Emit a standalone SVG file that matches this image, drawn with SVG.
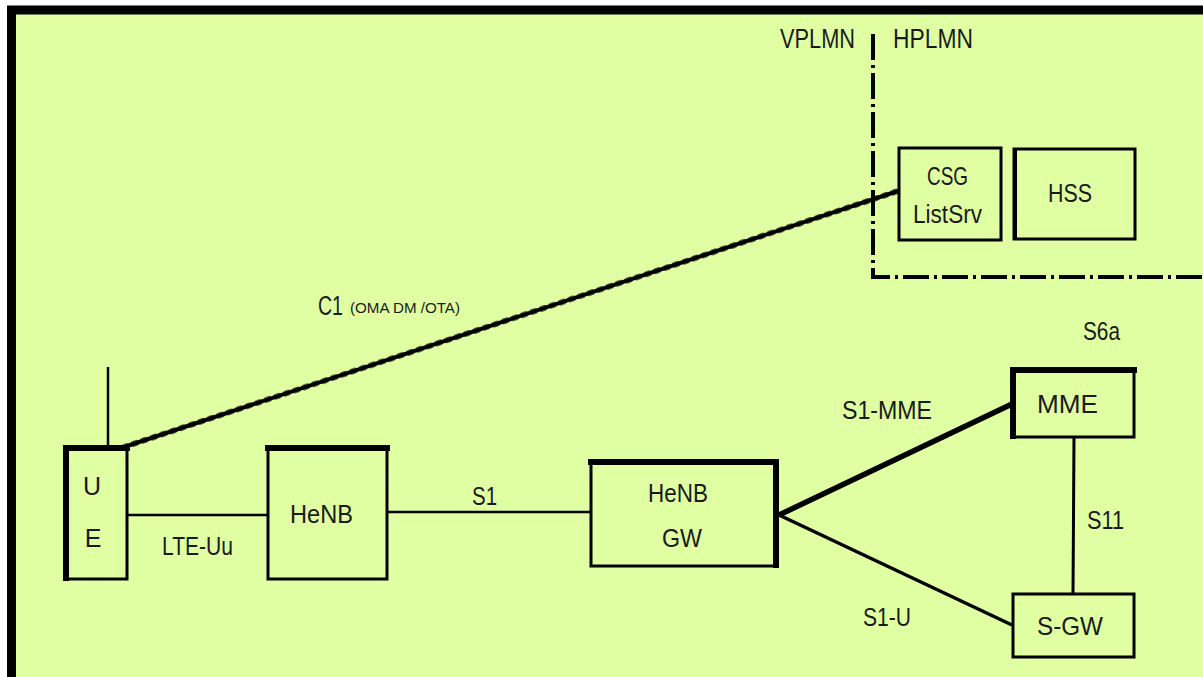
<svg xmlns="http://www.w3.org/2000/svg" width="1203" height="677" viewBox="0 0 1203 677">
<style>
.box{fill:none;stroke:#000;stroke-width:3}
.thick{stroke:#000;stroke-width:6;fill:none;stroke-linecap:square}
.t{font-family:"Liberation Sans",Arial,sans-serif;fill:#1a1a1a;lengthAdjust:spacingAndGlyphs}
.ln{stroke:#000;fill:none}
.dd{stroke:#000;stroke-width:4;fill:none;stroke-dasharray:26 5 3 5}
</style>
<rect x="0" y="0" width="1203" height="677" fill="#fff"/>
<rect x="12" y="10" width="1191" height="667" fill="#dfffa2"/>
<path d="M11.5,677 V10 H1203" fill="none" stroke="#000" stroke-width="9"/>

<g id="boundary">
<path class="dd" d="M873,34 V277 H1203"/>
<text class="t" x="780" y="48" font-size="27" textLength="75" lengthAdjust="spacingAndGlyphs">VPLMN</text>
<text class="t" x="893" y="48" font-size="27" textLength="80" lengthAdjust="spacingAndGlyphs">HPLMN</text>
</g>

<g id="connectors">
<line class="ln" x1="108" y1="367" x2="108" y2="447" stroke-width="2.5"/>
<line class="ln" x1="124" y1="447" x2="898" y2="191" stroke-width="4"/>
<line class="ln" x1="124" y1="447" x2="898" y2="191" stroke-width="6" stroke-dasharray="3 7" stroke-linecap="round" opacity="0.6"/>
<line class="ln" x1="127" y1="515" x2="267" y2="515" stroke-width="2.5"/>
<line class="ln" x1="388" y1="512" x2="590" y2="512" stroke-width="2.5"/>
<line class="ln" x1="779" y1="515" x2="1012" y2="404" stroke-width="5.5"/>
<line class="ln" x1="779" y1="515" x2="1012" y2="625" stroke-width="3.5"/>
<line class="ln" x1="1074" y1="438" x2="1073" y2="594" stroke-width="3"/>
<text class="t" x="318" y="315" font-size="27" textLength="25" lengthAdjust="spacingAndGlyphs">C1</text>
<text class="t" x="350" y="313" font-size="14" textLength="110" lengthAdjust="spacingAndGlyphs">(OMA DM /OTA)</text>
<text class="t" x="162" y="555" font-size="25" textLength="71" lengthAdjust="spacingAndGlyphs">LTE-Uu</text>
<text class="t" x="472" y="505" font-size="25" textLength="25" lengthAdjust="spacingAndGlyphs">S1</text>
<text class="t" x="842" y="419" font-size="25" textLength="90" lengthAdjust="spacingAndGlyphs">S1-MME</text>
<text class="t" x="863" y="626" font-size="25" textLength="48" lengthAdjust="spacingAndGlyphs">S1-U</text>
<text class="t" x="1087" y="529" font-size="25" textLength="37" lengthAdjust="spacingAndGlyphs">S11</text>
<text class="t" x="1083" y="340" font-size="25" textLength="37" lengthAdjust="spacingAndGlyphs">S6a</text>
</g>

<g id="UE">
<rect class="box" x="66" y="448" width="61" height="131"/>
<path class="thick" d="M66,578 V448 H127"/>
<text class="t" x="92" y="495" font-size="25" text-anchor="middle">U</text>
<text class="t" x="93" y="547" font-size="25" text-anchor="middle">E</text>
</g>

<g id="HeNB">
<rect class="box" x="268" y="448" width="119" height="131"/>
<path class="thick" d="M268,448 H387"/>
<text class="t" x="290" y="523" font-size="25" textLength="63" lengthAdjust="spacingAndGlyphs">HeNB</text>
</g>

<g id="HeNB-GW">
<rect class="box" x="591" y="461" width="185" height="105"/>
<path class="thick" d="M591,462 H776 V565"/>
<text class="t" x="648" y="502" font-size="25" textLength="60" lengthAdjust="spacingAndGlyphs">HeNB</text>
<text class="t" x="662" y="547" font-size="25" textLength="40" lengthAdjust="spacingAndGlyphs">GW</text>
</g>

<g id="MME">
<rect class="box" x="1013" y="370" width="121" height="67"/>
<path class="thick" d="M1013,436 V370 H1134"/>
<text class="t" x="1037" y="413" font-size="25" textLength="61" lengthAdjust="spacingAndGlyphs">MME</text>
</g>

<g id="S-GW">
<rect class="box" x="1013" y="594" width="121" height="63" stroke-width="4"/>
<text class="t" x="1037" y="635" font-size="25" textLength="66" lengthAdjust="spacingAndGlyphs">S-GW</text>
</g>

<g id="CSG-ListSrv">
<rect class="box" x="899" y="148" width="102" height="92" stroke-width="2"/>
<text class="t" x="927" y="185" font-size="25" textLength="41" lengthAdjust="spacingAndGlyphs">CSG</text>
<text class="t" x="913" y="223" font-size="25" textLength="69" lengthAdjust="spacingAndGlyphs">ListSrv</text>
</g>

<g id="HSS">
<rect class="box" x="1014" y="149" width="121" height="90"/>
<line x1="1015" y1="149" x2="1015" y2="239" stroke="#000" stroke-width="4"/>
<text class="t" x="1048" y="202" font-size="25" textLength="44" lengthAdjust="spacingAndGlyphs">HSS</text>
</g>
</svg>
